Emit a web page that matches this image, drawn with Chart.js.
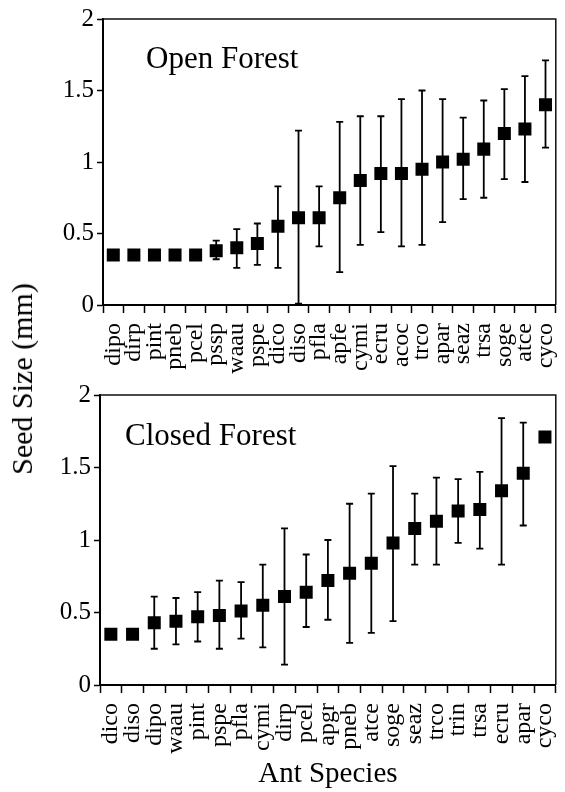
<!DOCTYPE html>
<html>
<head>
<meta charset="utf-8">
<title>Seed size by ant species</title>
<script src="https://cdn.jsdelivr.net/npm/chart.js@4.4.1/dist/chart.umd.min.js"></script>
<style>
  body { margin: 0; background: #fff; width: 565px; height: 792px; position: relative; overflow: hidden; }
  .panel { position: absolute; left: 0; width: 565px; }
  #openBox { top: 0; height: 380px; }
  #closedBox { top: 380px; height: 412px; }
  #ytitle {
    position: absolute; left: 22px; top: 379px;
    transform: translate(-50%, -50%) rotate(-90deg);
    font: 30px 'Liberation Serif', serif; color: #000; white-space: nowrap;
  }
</style>
</head>
<body>
<div class="panel" id="openBox"><canvas id="openChart"></canvas></div>
<div class="panel" id="closedBox"><canvas id="closedChart"></canvas></div>
<div id="ytitle">Seed Size (mm)</div>

<script>
// Open forest: species ordered by mean seed size
const openSpecies = ['dipo', 'dirp', 'pint', 'pneb', 'pcel', 'pssp', 'waau', 'pspe', 'dico', 'diso', 'pfla',
  'apfe', 'cymi', 'ecru', 'acoc', 'trco', 'apar', 'seaz', 'trsa', 'soge', 'atce', 'cyco'];
const openMean = [0.35, 0.35, 0.35, 0.35, 0.35, 0.38, 0.40, 0.43, 0.55, 0.61, 0.61,
  0.75, 0.87, 0.92, 0.92, 0.95, 1.00, 1.02, 1.09, 1.20, 1.23, 1.40];
const openLow = [null, null, null, null, null, 0.32, 0.26, 0.28, 0.26, 0.01, 0.41,
  0.23, 0.42, 0.51, 0.41, 0.42, 0.58, 0.74, 0.75, 0.88, 0.86, 1.10];
const openHigh = [null, null, null, null, null, 0.45, 0.53, 0.57, 0.83, 1.22, 0.83,
  1.28, 1.32, 1.32, 1.44, 1.50, 1.44, 1.31, 1.43, 1.51, 1.60, 1.71];

// Closed forest
const closedSpecies = ['dico', 'diso', 'dipo', 'waau', 'pint', 'pspe', 'pfla', 'cymi', 'dirp', 'pcel', 'apgr',
  'pneb', 'atce', 'soge', 'seaz', 'trco', 'trin', 'trsa', 'ecru', 'apar', 'cyco'];
const closedMean = [0.35, 0.35, 0.43, 0.44, 0.47, 0.48, 0.51, 0.55, 0.61, 0.64, 0.72,
  0.77, 0.84, 0.98, 1.08, 1.13, 1.20, 1.21, 1.34, 1.46, 1.71];
const closedLow = [null, null, 0.25, 0.28, 0.30, 0.25, 0.32, 0.26, 0.14, 0.40, 0.45,
  0.29, 0.36, 0.44, 0.83, 0.83, 0.98, 0.94, 0.83, 1.10, null];
const closedHigh = [null, null, 0.61, 0.60, 0.64, 0.72, 0.71, 0.83, 1.08, 0.90, 1.00,
  1.25, 1.32, 1.51, 1.32, 1.43, 1.42, 1.47, 1.84, 1.81, null];

const yTicks = [0, 0.5, 1, 1.5, 2];

const SERIF = "'Liberation Serif', 'Times New Roman', serif";

// draws the whiskers from the low/high arrays through the chart scales
const errorBars = {
  id: 'errorBars',
  beforeDatasetsDraw(chart, args, opts) {
    const { ctx, scales: { x, y } } = chart;
    ctx.save();
    ctx.strokeStyle = '#000';
    ctx.lineWidth = 1.8;
    opts.low.forEach((lo, i) => {
      const hi = opts.high[i];
      if (lo == null || hi == null) return;
      const px = x.getPixelForValue(i);
      const pTop = y.getPixelForValue(hi);
      const pBot = y.getPixelForValue(lo);
      ctx.beginPath();
      ctx.moveTo(px, pTop); ctx.lineTo(px, pBot);
      ctx.moveTo(px - 3.5, pTop); ctx.lineTo(px + 3.5, pTop);
      ctx.moveTo(px - 3.5, pBot); ctx.lineTo(px + 3.5, pBot);
      ctx.stroke();
    });
    ctx.restore();
  }
};

// box around plot area + the panel name in the corner
const frame = {
  id: 'frame',
  afterDraw(chart, args, opts) {
    const { ctx, chartArea: a } = chart;
    ctx.save();
    ctx.strokeStyle = '#111';
    ctx.lineWidth = 1.5;
    ctx.beginPath();
    ctx.moveTo(a.left, a.top); ctx.lineTo(a.right, a.top); ctx.lineTo(a.right, a.bottom);
    ctx.stroke();
    ctx.fillStyle = '#000';
    ctx.font = '31px ' + SERIF;
    ctx.textBaseline = 'alphabetic';
    ctx.fillText(opts.text, a.left + opts.dx, a.top + opts.dy);
    ctx.restore();
  }
};

function makeChart(id, labels, mean, low, high, cfg) {
  return new Chart(document.getElementById(id), {
    type: 'line',
    data: {
      labels: labels,
      datasets: [{
        data: mean,
        showLine: false,
        pointStyle: 'rect',
        pointRadius: 9.2,
        pointHoverRadius: 9.2,
        backgroundColor: '#000',
        borderColor: '#000',
        borderWidth: 0
      }]
    },
    options: {
      responsive: true,
      maintainAspectRatio: false,
      animation: false,
      layout: { padding: { left: 0, right: 8, top: cfg.top, bottom: 0 } },
      plugins: {
        legend: { display: false },
        tooltip: { enabled: false },
        errorBars: { low: low, high: high },
        frame: { text: cfg.name, dx: cfg.nameX, dy: cfg.nameY }
      },
      scales: {
        x: {
          type: 'category',
          offset: true,
          grid: { offset: true, drawOnChartArea: false, tickLength: 8, tickColor: '#000', tickWidth: 1.5 },
          border: { color: '#000', width: 2 },
          ticks: {
            autoSkip: false, minRotation: 90, maxRotation: 90, padding: 10,
            color: '#000', font: { family: SERIF, size: 24 }
          },
          title: {
            display: !!cfg.xTitle, text: cfg.xTitle || '', color: '#000',
            font: { family: SERIF, size: 29 }, padding: { top: 0, bottom: 0 }
          },
          afterFit(s) { s.height = cfg.xHeight; s.paddingLeft = 0; s.paddingRight = 0; }
        },
        y: {
          min: 0, max: 2,
          afterBuildTicks(s) { s.ticks = yTicks.map(v => ({ value: v })); },
          grid: { drawOnChartArea: false, tickLength: 6, tickColor: '#000', tickWidth: 1.5 },
          border: { color: '#000', width: 2 },
          ticks: {
            padding: 3, color: '#000', font: { family: SERIF, size: 25 },
            callback: v => String(v)
          },
          afterFit(s) { s.width = cfg.yWidth; s.paddingTop = 0; s.paddingBottom = 0; }
        }
      }
    },
    plugins: [errorBars, frame]
  });
}

makeChart('openChart', openSpecies, openMean, openLow, openHigh,
  { top: 19, xHeight: 75, yWidth: 103, name: 'Open Forest', nameX: 43, nameY: 49 });
makeChart('closedChart', closedSpecies, closedMean, closedLow, closedHigh,
  { top: 15, xHeight: 107, yWidth: 100, name: 'Closed Forest', nameX: 25, nameY: 50, xTitle: 'Ant Species' });
</script>
</body>
</html>
